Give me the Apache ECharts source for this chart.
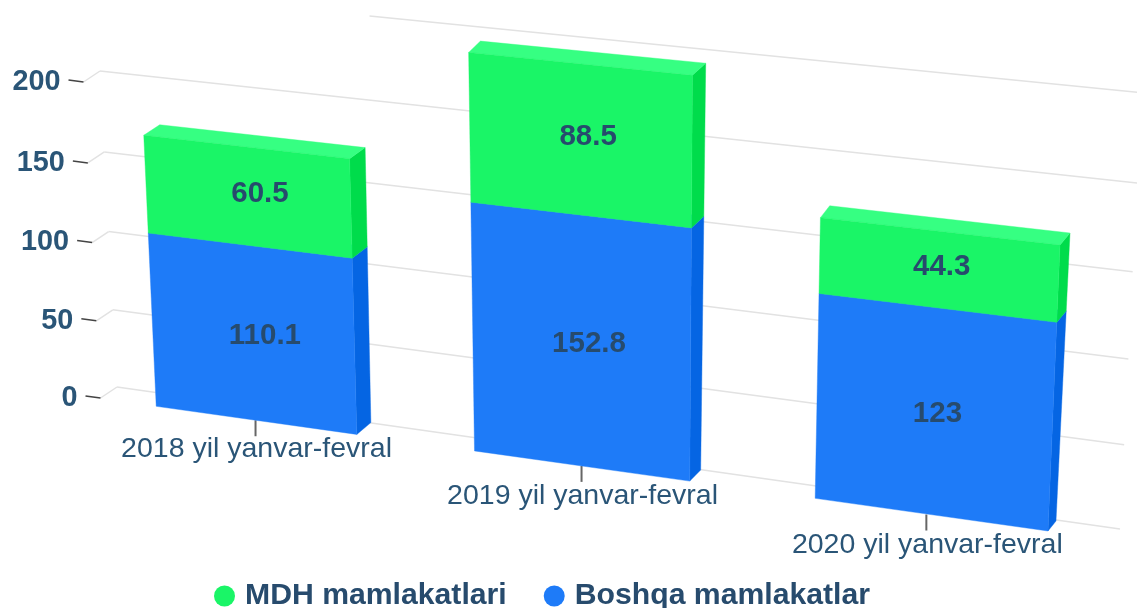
<!DOCTYPE html>
<html>
<head>
<meta charset="utf-8">
<title>Chart</title>
<script src="https://cdn.jsdelivr.net/npm/echarts@6/dist/echarts.min.js"></script>
<style>
  html, body { margin: 0; padding: 0; background: #fff; }
  #chart { width: 1137px; height: 608px; }
</style>
</head>
<body>
<div id="chart"></div>
<script>
const categories = ['2018 yil yanvar-fevral', '2019 yil yanvar-fevral', '2020 yil yanvar-fevral']
const mdhValues = [60.5, 88.5, 44.3]
const otherValues = [110.1, 152.8, 123]
const yTicks = [0, 50, 100, 150, 200, 250]
const seriesNames = ['MDH mamlakatlari', 'Boshqa mamlakatlar']

const FONT = '"Liberation Sans", Arial, sans-serif'
const TEXT_COLOR = '#274b6d'
const AXIS_TEXT_COLOR = '#2a5577'
const BAR_FRACTION = 0.65
const Y_MAX = 250

const GREEN = { front: '#1af567', top: '#36ff82', side: '#00dc4b' }
const BLUE = { front: '#1e7bf8', top: '#3a8fff', side: '#0565e3' }

// one plane can't fit all three boxes exactly, small per-bar corrections
const BAR_TRIM = [0.978, 0.986, 1]
const BAR_SHIFT = [-2.5, -2.5, 0]
const DEPTH_SHIFT = [3, 3, 0]
const LABEL_SHIFT = [10, 6, 4]
const TICK_SHIFT = [-2.5, -2, -4]

// the picture is a tilted 3d view, so the flat grid gets warped by plane
// s,t are 0..1 across the grid, x,y are where they land on screen
function homography(src, dst) {
  const m = []
  src.forEach((p, i) => {
    const [s, t] = p
    const [x, y] = dst[i]
    m.push([s, t, 1, 0, 0, 0, -s * x, -t * x, x])
    m.push([0, 0, 0, s, t, 1, -s * y, -t * y, y])
  })
  for (let c = 0; c < 8; c++) {
    let best = c
    for (let r = c + 1; r < 8; r++) {
      if (Math.abs(m[r][c]) > Math.abs(m[best][c])) best = r
    }
    const tmp = m[c]; m[c] = m[best]; m[best] = tmp
    for (let r = 0; r < 8; r++) {
      if (r === c) continue
      const f = m[r][c] / m[c][c]
      for (let k = c; k < 9; k++) m[r][k] -= f * m[c][k]
    }
  }
  const h = m.map((row, i) => row[8] / row[i])
  return (s, t) => {
    const w = h[6] * s + h[7] * t + 1
    return [(h[0] * s + h[1] * t + h[2]) / w, (h[3] * s + h[4] * t + h[5]) / w]
  }
}

const sL = (0.5 - BAR_FRACTION / 2) / 3
const sR = (2.5 + BAR_FRACTION / 2) / 3
const tA = 170.6 / Y_MAX
const tB = 167.3 / Y_MAX
const barSrc = [[sL, 0], [sR, 0], [sR, tB], [sL, tA]]

const frontPlane = homography(barSrc, [[156.5, 406], [1048, 531], [1060, 245], [144, 135]])
const backPlane = homography(barSrc, [[171, 394], [1056, 521], [1070, 233], [160, 124.5]])
const wallPlane = homography(
  [[0, 0], [1, 0], [1, 200 / Y_MAX], [0, 200 / Y_MAX]],
  [[117, 387], [1120, 529], [1137, 183], [100, 71]]
)

function toUnit(api, params, cat, val) {
  const p = api.coord([cat, val])
  const g = params.coordSys
  return [(p[0] - g.x) / g.width, (g.y + g.height - p[1]) / g.height]
}

function poly(points, fill) {
  return {
    type: 'polygon',
    shape: { points },
    style: { fill, stroke: fill, lineWidth: 0.4 }
  }
}

function seg(a, b, stroke, lineWidth) {
  return {
    type: 'line',
    shape: { x1: a[0], y1: a[1], x2: b[0], y2: b[1] },
    style: { stroke, lineWidth }
  }
}

function label(text, x, y, opts) {
  return {
    type: 'text',
    style: Object.assign({
      text, x, y,
      align: 'center',
      verticalAlign: 'middle',
      fontFamily: FONT,
      fill: TEXT_COLOR
    }, opts)
  }
}

function renderBar(colors, labelDy) {
  return (params, api) => {
    const cat = api.value(0)
    const from = api.value(1)
    const to = api.value(2)
    const half = api.size([1, 0])[0] * BAR_FRACTION / 2 * BAR_TRIM[cat]
    const g = params.coordSys
    const c = toUnit(api, params, cat, from)
    const d = toUnit(api, params, cat, to)
    const hs = half / g.width
    const l = c[0] - hs
    const r = c[0] + hs
    const moved = p => [p[0] + BAR_SHIFT[cat], p[1]]
    const movedBack = p => [p[0] + BAR_SHIFT[cat] + DEPTH_SHIFT[cat], p[1]]

    const fbl = moved(frontPlane(l, c[1])), fbr = moved(frontPlane(r, c[1]))
    const ftl = moved(frontPlane(l, d[1])), ftr = moved(frontPlane(r, d[1]))
    const bbr = movedBack(backPlane(r, c[1]))
    const btl = moved(backPlane(l, d[1])), btr = movedBack(backPlane(r, d[1]))
    const mid = frontPlane(c[0], (c[1] + d[1]) / 2)

    return {
      type: 'group',
      children: [
        poly([fbr, ftr, btr, bbr], colors.side),
        poly([ftl, ftr, btr, btl], colors.top),
        poly([fbl, fbr, ftr, ftl], colors.front),
        label(String(api.value(3)), mid[0] + LABEL_SHIFT[cat], mid[1] + labelDy, { fontSize: 29.5, fontWeight: 'bold' })
      ]
    }
  }
}

function renderWall(params, api) {
  const val = api.value(0)
  const u = toUnit(api, params, 0, val)
  const top = val === Y_MAX
  // top line only shows from about a quarter of the way along
  const start = wallPlane(top ? 0.283 : 0, u[1])
  const end = wallPlane(1, u[1])
  const children = [seg(start, end, '#e2e2e2', 1.5)]
  if (!top) {
    const corner = [start[0] - 16.5, start[1] + 11]
    const tickEnd = [corner[0] - 15, corner[1] - 2]
    children.push(seg(start, corner, '#e2e2e2', 1.5))
    children.push(seg(corner, tickEnd, '#444444', 1.5))
    children.push(label(String(val), tickEnd[0] - 8, tickEnd[1] + 2, {
      align: 'right',
      fontSize: 28.8,
      fontWeight: 'bold',
      fill: AXIS_TEXT_COLOR
    }))
  }
  return { type: 'group', children }
}

function renderCategory(params, api) {
  const cat = api.value(0)
  const u = toUnit(api, params, cat, 0)
  const p = frontPlane(u[0], u[1])
  const x = p[0] + TICK_SHIFT[cat]
  return {
    type: 'group',
    children: [
      seg([x, p[1]], [x, p[1] + 16], '#666666', 2),
      label(categories[cat], x + 1, p[1] + 29 + cat, { fontSize: 28.5, fill: AXIS_TEXT_COLOR })
    ]
  }
}

const otherData = categories.map((c, i) => [i, 0, otherValues[i], otherValues[i]])
const mdhData = categories.map((c, i) => [i, otherValues[i], otherValues[i] + mdhValues[i], mdhValues[i]])

const chart = echarts.init(document.getElementById('chart'))
chart.setOption({
  animation: false,
  backgroundColor: '#ffffff',
  grid: { left: 90, right: 40, top: 1, bottom: 212 },
  xAxis: { type: 'category', data: categories, show: false },
  yAxis: { type: 'value', min: 0, max: Y_MAX, interval: 50, show: false },
  legend: {
    data: seriesNames,
    left: 209,
    top: 576,
    icon: 'circle',
    itemWidth: 21,
    itemHeight: 21,
    itemGap: 37,
    textStyle: {
      fontFamily: FONT,
      fontSize: 30.2,
      fontWeight: 'bold',
      color: TEXT_COLOR,
      padding: [0, 0, 0, 5]
    }
  },
  series: [
    {
      name: 'wall',
      type: 'custom',
      silent: true,
      renderItem: renderWall,
      encode: { y: 0 },
      data: yTicks.map(v => [v]),
      z: 1
    },
    {
      name: 'categories',
      type: 'custom',
      silent: true,
      renderItem: renderCategory,
      encode: { x: 0 },
      data: categories.map((c, i) => [i]),
      z: 2
    },
    {
      name: seriesNames[1],
      type: 'custom',
      renderItem: renderBar(BLUE, 2),
      encode: { x: 0, y: [1, 2] },
      itemStyle: { color: BLUE.front },
      data: otherData,
      z: 3
    },
    {
      name: seriesNames[0],
      type: 'custom',
      renderItem: renderBar(GREEN, -3),
      encode: { x: 0, y: [1, 2] },
      itemStyle: { color: GREEN.front },
      data: mdhData,
      z: 4
    }
  ]
})
</script>
</body>
</html>
